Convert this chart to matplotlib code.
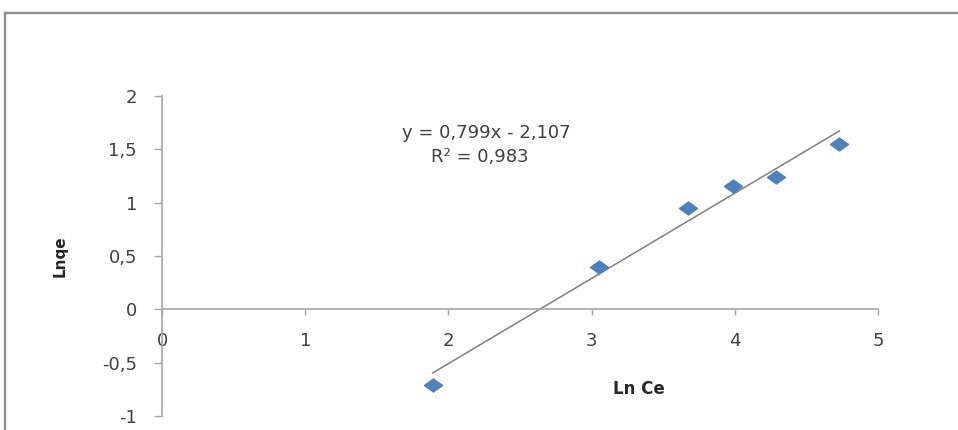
import matplotlib
matplotlib.use("Agg")
import matplotlib.pyplot as plt
import numpy as np
from matplotlib.path import Path
from matplotlib.lines import Line2D

plt.rcParams['font.family'] = ['DejaVu Sans']

# Freundlich isotherm data (ln Ce vs ln qe)
ln_ce = [1.89, 3.05, 3.67, 3.99, 4.29, 4.73]
ln_qe = [-0.71, 0.40, 0.95, 1.16, 1.24, 1.55]

# Linear fit stated on the chart
slope = 0.799
intercept = -2.107
r_squared = 0.983

x_ticks = [0, 1, 2, 3, 4, 5]
x_tick_labels = ['0', '1', '2', '3', '4', '5']
y_ticks = [-1, -0.5, 0, 0.5, 1, 1.5, 2]
y_tick_labels = ['-1', '-0,5', '0', '0,5', '1', '1,5', '2']

text_color = '#404040'
axis_color = '#a6a6a6'
marker_color = '#4f81bd'

fig = plt.figure(figsize=(9.58, 4.30), dpi=100)
fig.patch.set_facecolor('white')

# Chart-area frame (extends past the right and bottom edges)
frame_x = 5 / 958
frame_y = 1 - 13 / 430
fig.add_artist(Line2D([frame_x, 1.02], [frame_y, frame_y], transform=fig.transFigure,
                      color='#8c8c8c', lw=1.6))
fig.add_artist(Line2D([frame_x, frame_x], [frame_y, -0.02], transform=fig.transFigure,
                      color='#8c8c8c', lw=1.6))

ax = fig.add_axes([162 / 958, 1 - 416 / 430, (878 - 162) / 958, (416 - 96) / 430])
ax.set_facecolor('none')
ax.set_xlim(0, 5)
ax.set_ylim(-1, 2)

# Axes cross at the origin
ax.spines['left'].set_position(('data', 0))
ax.spines['bottom'].set_position(('data', 0))
ax.spines['right'].set_visible(False)
ax.spines['top'].set_visible(False)
for s in ('left', 'bottom'):
    ax.spines[s].set_color(axis_color)
    ax.spines[s].set_linewidth(1.2)

ax.set_xticks(x_ticks)
ax.set_xticklabels(x_tick_labels)
ax.set_yticks(y_ticks)
ax.set_yticklabels(y_tick_labels)
ax.tick_params(axis='x', direction='out', length=4.5, width=1.0, color=axis_color,
               pad=12, labelsize=13, labelcolor=text_color)
ax.tick_params(axis='y', direction='out', length=6, width=1.0, color=axis_color,
               pad=12, labelsize=13, labelcolor=text_color)

# Trend line over the data range
xs = np.array([min(ln_ce), max(ln_ce)])
ax.plot(xs, slope * xs + intercept, color='#7f7f7f', lw=1.1, zorder=2)

# Flattened diamond markers
diamond = Path([(-1, 0), (0, 0.72), (1, 0), (0, -0.72), (-1, 0)],
               [Path.MOVETO, Path.LINETO, Path.LINETO, Path.LINETO, Path.CLOSEPOLY])
ax.plot(ln_ce, ln_qe, linestyle='none', marker=diamond, markersize=13,
        color=marker_color, markeredgecolor=marker_color, zorder=3)

eq_text = f"y = {slope:.3f}x - {abs(intercept):.3f}".replace('.', ',')
r2_text = f"R² = {r_squared:.3f}".replace('.', ',')
fig.text(486 / 958, 1 - 133 / 430, eq_text, ha='center', va='center',
         fontsize=13, color=text_color)
fig.text(480 / 958, 1 - 157 / 430, r2_text, ha='center', va='center',
         fontsize=13, color=text_color)

fig.text(60 / 958, 1 - 256 / 430, 'Lnqe', rotation=90, ha='center', va='center',
         fontsize=11, fontweight='bold', color='#262626')
fig.text(639 / 958, 1 - 389 / 430, 'Ln Ce', ha='center', va='center',
         fontsize=12, fontweight='bold', color='#262626')

fig.savefig('out.png', dpi=100, facecolor='white')
